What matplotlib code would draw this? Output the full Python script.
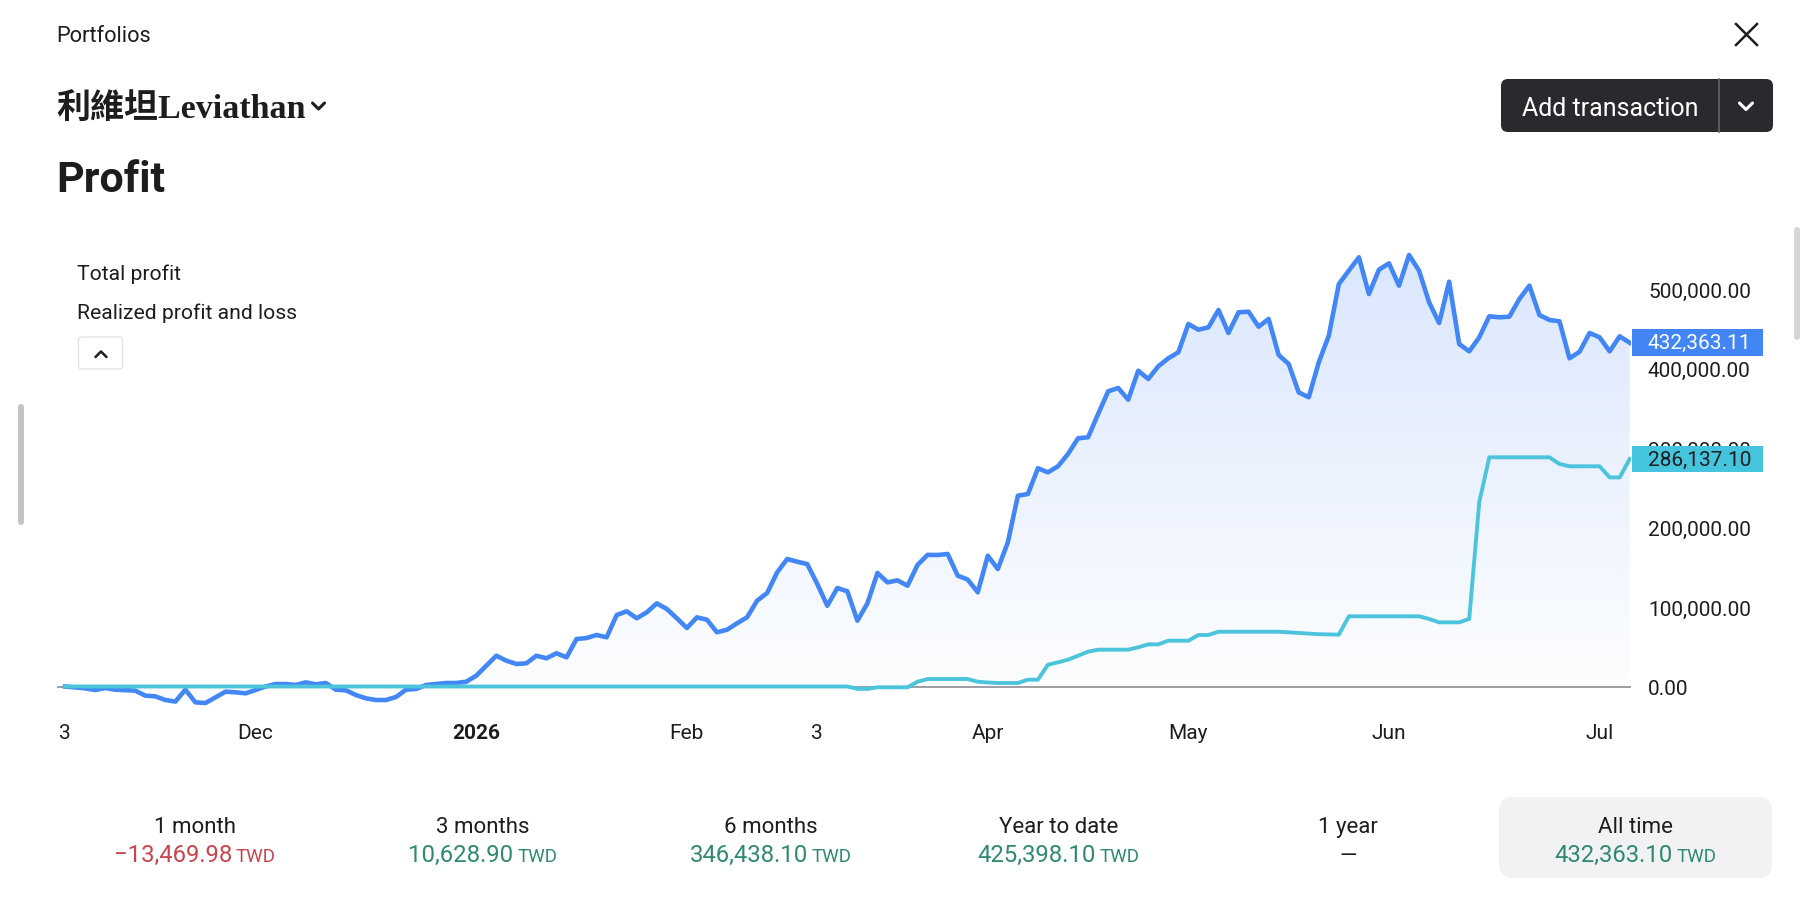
import numpy as np
import matplotlib.pyplot as plt
import matplotlib.transforms as mtransforms
from matplotlib.patches import FancyBboxPatch, Rectangle

# trading-day index of each vertex, values in thousand TWD
total_idx = [0, 2, 3, 4, 5, 7, 8, 9, 10, 11, 12, 13, 14, 15, 16, 17, 18, 19, 20,
             21, 22, 23, 24, 25, 26, 27, 28, 29, 30, 31, 32, 33, 34, 35, 36, 38,
             39, 40, 41, 42, 43, 44, 45, 46, 47, 48, 49, 50, 51, 52, 53, 54, 55,
             56, 57, 58, 59, 60, 61, 62, 63, 64, 65, 66, 67, 68, 69, 70, 71, 72,
             73, 74, 75, 76, 77, 78, 79, 80, 81, 82, 83, 84, 85, 86, 87, 88, 89,
             90, 91, 92, 93, 94, 95, 96, 97, 98, 99, 100, 101, 102, 103, 104,
             105, 106, 107, 108, 109, 110, 111, 112, 113, 114, 115, 116, 117,
             118, 119, 120, 121, 122, 123, 124, 125, 126, 127, 128, 129, 130,
             131, 132, 133, 134, 135, 136, 137, 138, 139, 140, 141, 142, 143,
             144, 145, 146, 147, 148, 149, 150, 151, 152, 153, 154, 155, 156]
total_k = [0, -2.3, -4.4, -1.9, -4.0, -5.2, -11.5, -12.4, -17.0, -19.0, -4.0,
           -19.9, -20.8, -13.6, -6.5, -7.3, -8.6, -4.4, 0, 3.1, 3.1, 1.9, 5.2,
           2.7, 4.4, -4.0, -4.8, -10.7, -14.9, -17.0, -17.0, -13.2, -4.0, -3.1,
           1.9, 4.4, 4.4, 6.0, 13.6, 26.2, 38.7, 32.5, 28.3, 29.2, 38.7, 35.5,
           41.8, 36.7, 59.7, 61.0, 64.8, 61.9, 89.9, 94.6, 85.8, 93.3, 104.6,
           97.5, 85.8, 73.6, 87.0, 84.0, 68.2, 71.4, 79.5, 87.0, 108.0, 117.6,
           143.6, 160.4, 157.0, 154.0, 129.0, 101.6, 123.9, 119.7, 82.8, 104.6,
           142.8, 131.0, 133.5, 126.8, 153.0, 165.6, 165.4, 166.7, 139.4, 134.5,
           118.5, 164.5, 147.8, 181.4, 240.0, 242.1, 274.5, 269.4, 277.0, 292.5,
           312.2, 313.5, 342.8, 371.3, 375.5, 360.8, 397.2, 386.8, 402.8, 412.8,
           420.4, 456.0, 448.8, 451.8, 473.6, 444.7, 470.7, 471.5, 452.6, 462.3,
           417.0, 405.7, 370.0, 363.8, 407.8, 441.3, 506.3, 523.0, 539.9, 493.7,
           524.3, 532.3, 504.2, 542.8, 523.0, 483.3, 457.2, 509.2, 430.8, 421.6,
           439.2, 465.7, 464.4, 465.2, 487.4, 504.2, 467.3, 461.0, 459.4, 412.8,
           421.1, 444.7, 439.2, 421.6, 440.5, 432.36311]

realized_idx = [0, 78, 79, 80, 81, 84, 85, 86, 90, 91, 92, 93, 95, 96, 97, 98, 99,
                100, 101, 102, 103, 106, 107, 108, 109, 110, 112, 113, 114, 115,
                121, 125, 127, 128, 135, 136, 137, 139, 140, 141, 142, 148, 149,
                150, 153, 154, 155, 156]
realized_k = [0, 0, -3.0, -3.0, -1.0, -1.0, 6.0, 9.4, 9.4, 6.0, 5.0, 4.4, 4.4, 8.6,
              8.6, 27.4, 30.4, 33.7, 38.7, 43.8, 46.3, 46.3, 49.3, 53.0, 53.0,
              57.6, 57.6, 64.8, 64.8, 68.9, 68.9, 65.8, 65.2, 88.3, 88.3, 85.0,
              80.7, 80.7, 85.0, 231.7, 288.3, 288.3, 279.9, 277.0, 277.0, 263.0,
              263.0, 286.1371]

tick_idx = [0, 19, 41, 62, 75, 92, 112, 132, 153]
tick_labels = ['3', 'Dec', '2026', 'Feb', '3', 'Apr', 'May', 'Jun', 'Jul']
y_ticks = [0, 100000, 200000, 300000, 400000, 500000]

periods = ['1 month', '3 months', '6 months', 'Year to date', '1 year', 'All time']
period_values = [-13469.98, 10628.90, 346438.10, 425398.10, None, 432363.10]

W, H = 1806, 904
DARK = '#1d1d1f'
BLUE = '#4287f5'
CYAN = '#4cc4dc'

plt.rcParams['font.family'] = ['Roboto', 'DejaVu Sans']

fig = plt.figure(figsize=(W / 100, H / 100), dpi=100)
fig.patch.set_facecolor('white')

# full-figure axes in pixel coordinates for the page furniture
bg = fig.add_axes([0, 0, 1, 1])
bg.set_xlim(0, W)
bg.set_ylim(H, 0)
bg.axis('off')
bg.set_zorder(0)

# chart axes
L, R, T, B = 57, 1631, 226.4, 719.3
ax = fig.add_axes([L / W, 1 - B / H, (R - L) / W, (B - T) / H])
ax.set_zorder(1)
ax.patch.set_alpha(0)

tx = np.array(total_idx, dtype=float)
ty = np.array(total_k) * 1000
rx = np.array(realized_idx, dtype=float)
ry = np.array(realized_k) * 1000

ax.set_xlim(-0.8, 156.13)
ax.set_ylim(-40000, 580000)

# gradient fill under total profit
poly = ax.fill_between(tx, ty, 0, color='none', lw=0)
top = 545000
yy = np.linspace(-40000, top, 300)
alpha = np.clip(0.015 + 0.185 * yy / top, 0.015, 0.2)
img = np.zeros((300, 2, 4))
img[..., 0] = 0.27
img[..., 1] = 0.52
img[..., 2] = 0.96
img[..., 3] = alpha[:, None]
im = ax.imshow(img, extent=[tx[0], tx[-1], -40000, top], origin='lower',
               aspect='auto', zorder=1, interpolation='bilinear')
im.set_clip_path(poly.get_paths()[0], transform=ax.transData)

ax.axhline(0, color='#8e8e93', lw=1.2, zorder=2)
ax.plot(tx, ty, color=BLUE, lw=3.3, zorder=3, solid_joinstyle='round')
ax.plot(rx, ry, color=CYAN, lw=2.8, zorder=4, solid_joinstyle='round')

for s in ax.spines.values():
    s.set_visible(False)

ax.yaxis.tick_right()
ax.set_yticks(y_ticks, [f'{v:,.2f}' for v in y_ticks])
ax.tick_params(axis='y', length=0, pad=12.2, labelsize=15, labelcolor=DARK)
ax.set_xticks(tick_idx, tick_labels)
ax.tick_params(axis='x', length=0, pad=3.5, labelsize=15, labelcolor=DARK)
ax.get_xticklabels()[2].set_fontweight('bold')

# last-value badges on the right
trans = mtransforms.blended_transform_factory(ax.transAxes, ax.transData)
aw = R - L
bh = 26.6 / 79.5 * 100000
for val, face, tc in [(ty[-1], '#4285f4', 'white'), (ry[-1], '#45c4dd', DARK)]:
    ax.add_patch(Rectangle(((1632 - L) / aw, val - bh / 2), (1763 - 1632) / aw, bh,
                           transform=trans, facecolor=face, edgecolor='none',
                           clip_on=False, zorder=6))
    ax.text((1648 - L) / aw, val, f'{val:,.2f}', transform=trans, color=tc,
            fontsize=15, va='center', ha='left', zorder=7, clip_on=False)

# header
bg.text(56, 42, 'Portfolios', fontsize=15.7, color=DARK, va='baseline')
title = bg.text(56, 118, '利維坦Leviathan', fontsize=24.5, fontweight='bold',
                color=DARK, va='baseline',
                family=['Liberation Serif', 'Noto Sans CJK TC', 'DejaVu Sans'])
bg.text(56, 192, 'Profit', fontsize=31, fontweight='bold', color=DARK, va='baseline')

renderer = fig.canvas.get_renderer()
tw = title.get_window_extent(renderer).width
cx = 56 + tw + 13
bg.plot([cx - 6, cx, cx + 6], [104, 110, 104], color=DARK, lw=2.2,
        solid_capstyle='round', solid_joinstyle='round')

# close button
bg.plot([1736, 1757], [25, 46], color=DARK, lw=1.8)
bg.plot([1736, 1757], [46, 25], color=DARK, lw=1.8)

# add transaction button
bg.add_patch(FancyBboxPatch((1501, 80), 272, 53, boxstyle='round,pad=0,rounding_size=7',
                            facecolor='#2b292d', edgecolor='none'))
bg.plot([1719, 1719], [80, 133], color='#66646a', lw=1.2)
bg.text(1610, 116, 'Add transaction', fontsize=18, color='white', ha='center',
        va='baseline')
bg.plot([1739.5, 1746, 1752.5], [104, 110.5, 104], color='white', lw=2.2,
        solid_capstyle='round', solid_joinstyle='round')

# legend texts
bg.text(77, 280, 'Total profit', fontsize=15.2, color=DARK, va='baseline')
bg.text(77, 319.3, 'Realized profit and loss', fontsize=15.2, color=DARK, va='baseline')
bg.add_patch(FancyBboxPatch((78.5, 338), 44, 32, boxstyle='round,pad=0,rounding_size=3',
                            facecolor='white', edgecolor='#e3e3e6', lw=1))
bg.plot([95.5, 101, 106.5], [358, 352.5, 358], color=DARK, lw=1.8,
        solid_capstyle='round', solid_joinstyle='round')

# scrollbars
bg.add_patch(FancyBboxPatch((18, 405), 6, 121, boxstyle='round,pad=0,rounding_size=3',
                            facecolor='#c4c4c8', edgecolor='none'))
bg.add_patch(FancyBboxPatch((1794, 228), 6, 113, boxstyle='round,pad=0,rounding_size=3',
                            facecolor='#d6d6da', edgecolor='none'))

# period summary row
col_x = [194.7, 482.6, 770.6, 1058.5, 1347.6, 1635.6]
bg.add_patch(FancyBboxPatch((1499, 798), 273, 81, boxstyle='round,pad=0,rounding_size=14',
                            facecolor='#f2f2f5', edgecolor='none'))
for cxp, name, v in zip(col_x, periods, period_values):
    bg.text(cxp, 833, name, fontsize=16, color=DARK, ha='center', va='baseline')
    if v is None:
        bg.text(cxp, 862, '—', fontsize=16, color=DARK, ha='center', va='baseline')
        continue
    col = '#c9444f' if v < 0 else '#2e8a6f'
    s = f'−{abs(v):,.2f}' if v < 0 else f'{v:,.2f}'
    t1 = bg.text(0, 862, s, fontsize=17.2, color=col, ha='left', va='baseline')
    t2 = bg.text(0, 862, 'TWD', fontsize=13.5, color=col, ha='left', va='baseline')
    w1 = t1.get_window_extent(renderer).width
    w2 = t2.get_window_extent(renderer).width
    x0 = cxp - (w1 + 4 + w2) / 2
    t1.set_x(x0)
    t2.set_x(x0 + w1 + 4)

fig.savefig('out.png', dpi=100, facecolor='white')
